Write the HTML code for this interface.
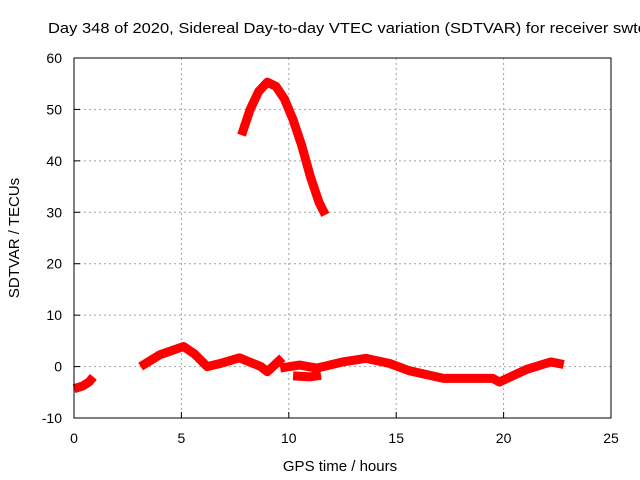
<!DOCTYPE html>
<html><head><meta charset="utf-8"><style>
body{margin:0;background:#fff;overflow:hidden;}
svg{display:block;font-family:"Liberation Sans",sans-serif;}
</style></head><body>
<svg id="chart" width="640" height="480" viewBox="0 0 640 480">
<text x="48" y="33" font-size="15" fill="#000" textLength="598" lengthAdjust="spacingAndGlyphs">Day 348 of 2020, Sidereal Day-to-day VTEC variation (SDTVAR) for receiver swtc</text>
<g id="grid"></g>
<g id="ticks"></g>
<g id="series"></g>
<rect x="74" y="58" width="537" height="360" fill="none" stroke="#000" stroke-width="1"/>
<text x="340" y="471" font-size="15" text-anchor="middle">GPS time / hours</text>
<text transform="translate(19,238) rotate(-90)" font-size="15" text-anchor="middle">SDTVAR / TECUs</text>
</svg>
<script>
const xTicks=[0,5,10,15,20,25];
const yTicks=[-10,0,10,20,30,40,50,60];
const arcHigh=[[7.8,45],[8.2,50],[8.6,53.5],[9.0,55.3],[9.4,54.5],[9.8,52],[10.2,48],[10.6,43],[11.0,37],[11.4,32],[11.7,29.5]];
const arcA=[[0,-4.3],[0.4,-3.8],[0.7,-3],[0.9,-2]];
const arcB=[[3.1,0],[4.0,2.3],[5.1,3.9],[5.6,2.5],[6.2,0],[6.9,0.7],[7.7,1.7],[8.7,0],[9.0,-1],[9.7,1.7]];
const arcC=[[9.6,-0.3],[10.5,0.3],[11.3,-0.3],[12.5,0.9],[13.6,1.6],[14.7,0.6],[15.6,-0.8],[17.2,-2.3],[19.5,-2.3],[19.8,-3],[21.1,-0.5],[22.2,0.9],[22.8,0.4]];
const arcD=[[10.2,-1.8],[11.0,-2],[11.5,-1.7]];
const allArcs=[arcHigh,arcA,arcB,arcC,arcD];
const NS="http://www.w3.org/2000/svg";
const L=74,R=611,T=58,B=418;
const xs=v=>L+(v-0)/25*(R-L);
const ys=v=>B-(v+10)/70*(B-T);
const grid=document.getElementById('grid'),ticks=document.getElementById('ticks'),ser=document.getElementById('series');
function mk(tag,attrs,parent){const e=document.createElementNS(NS,tag);for(const k in attrs)e.setAttribute(k,attrs[k]);parent.appendChild(e);return e;}
xTicks.forEach(t=>{
  const x=xs(t);
  if(t>0&&t<25){const g=mk('line',{x1:x,x2:x,y1:T,y2:B,stroke:'#a0a0a0','stroke-dasharray':'2,3'},grid);
  
  }
  const tk=mk('line',{x1:x,x2:x,y1:B,y2:B-6,stroke:'#000'},ticks);
  
  
  const tx=mk('text',{x:x,y:443,'font-size':14,'text-anchor':'middle'},ticks);tx.textContent=t;
  
  
});
yTicks.forEach(t=>{
  const y=ys(t);
  if(t>-10&&t<60){const g=mk('line',{x1:L,x2:R,y1:y,y2:y,stroke:'#a0a0a0','stroke-dasharray':'2,3'},grid);
  
  }
  const tk=mk('line',{x1:L,x2:L+6,y1:y,y2:y,stroke:'#000'},ticks);
  
  
  const tx=mk('text',{x:62,y:y+5,'font-size':14,'text-anchor':'end'},ticks);tx.textContent=t;
  
  
});
allArcs.forEach(a=>{
  const p=mk('polyline',{points:a.map(d=>xs(d[0])+','+ys(d[1])).join(' '),fill:'none',stroke:'#ff0000','stroke-width':9,'stroke-linejoin':'round'},ser);
  
  
});
</script>
</body></html>
